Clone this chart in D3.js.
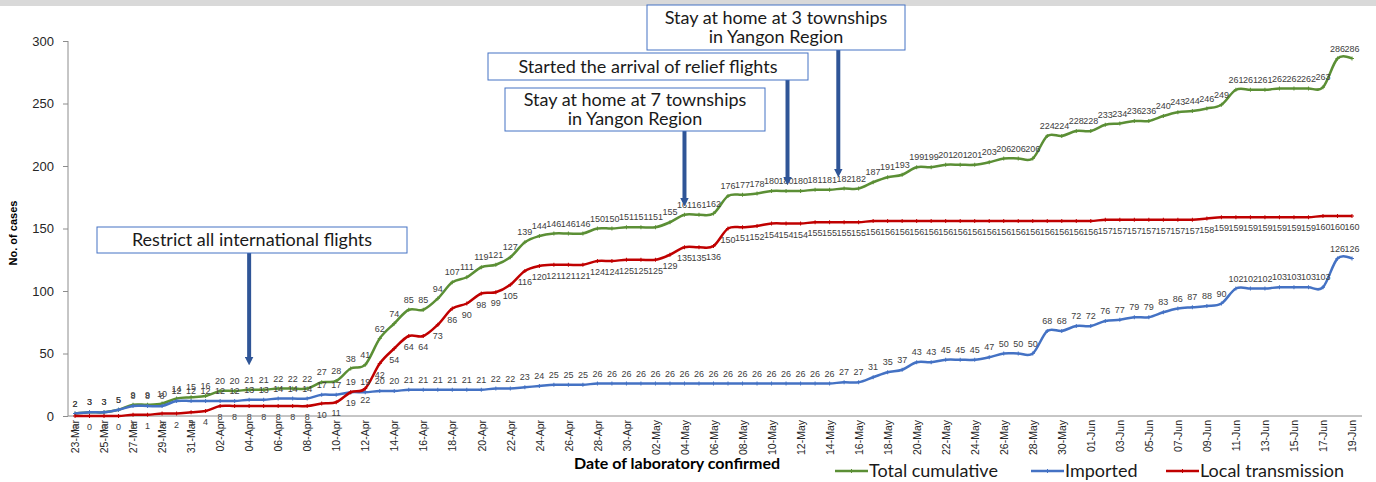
<!DOCTYPE html>
<html>
<head>
<meta charset="utf-8">
<script src="https://cdn.jsdelivr.net/npm/d3@7"></script>
<style>
  body { margin: 0; background: #fff; }
  svg { display: block; }
</style>
</head>
<body>
<div id="chart"></div>
<script>
// categories: one point per day, 23-Mar to 19-Jun
const parseDay = d3.timeParse("%Y-%m-%d");
const fmtDay = d3.timeFormat("%d-%b");
const days = d3.timeDay.range(parseDay("2020-03-23"), parseDay("2020-06-20")).map(fmtDay);

const totalCases = [
  2, 3, 3, 5, 9, 9, 10, 14, 15,
  16, 20, 20, 21, 21, 22, 22, 22, 27, 28, 38, 41, 62, 74, 85, 85, 94, 107, 111, 119, 121, 127, 139, 144, 146, 146, 146, 150, 150, 151,
  151, 151, 155, 161, 161, 162, 176, 177, 178, 180, 180, 180, 181, 181, 182, 182, 187, 191, 193, 199, 199, 201, 201, 201, 203, 206, 206, 206, 224, 224, 228,
  228, 233, 234, 236, 236, 240, 243, 244, 246, 249, 261, 261, 261, 262, 262, 262, 263, 286, 286
];
const importedCases = [
  2, 3, 3, 5, 8, 8, 8, 12, 12,
  12, 12, 12, 13, 13, 14, 14, 14, 17, 17, 19, 19, 20, 20, 21, 21, 21, 21, 21, 21, 22, 22, 23, 24, 25, 25, 25, 26, 26, 26,
  26, 26, 26, 26, 26, 26, 26, 26, 26, 26, 26, 26, 26, 26, 27, 27, 31, 35, 37, 43, 43, 45, 45, 45, 47, 50, 50, 50, 68, 68, 72,
  72, 76, 77, 79, 79, 83, 86, 87, 88, 90, 102, 102, 102, 103, 103, 103, 103, 126, 126
];
const localCases = [
  0, 0, 0, 0, 1, 1, 2, 2, 3,
  4, 8, 8, 8, 8, 8, 8, 8, 10, 11, 19, 22, 42, 54, 64, 64, 73, 86, 90, 98, 99, 105, 116, 120, 121, 121, 121, 124, 124, 125,
  125, 125, 129, 135, 135, 136, 150, 151, 152, 154, 154, 154, 155, 155, 155, 155, 156, 156, 156, 156, 156, 156, 156, 156, 156, 156, 156, 156, 156, 156, 156,
  156, 157, 157, 157, 157, 157, 157, 157, 158, 159, 159, 159, 159, 159, 159, 159, 160, 160, 160
];
const yTicks = [0, 50, 100, 150, 200, 250, 300];

// annotations: text lines, date the arrow points at (fractional offset allowed)
const notes = [
  { lines: ["Restrict all international flights"], day: "04-Apr", shift: 0, box: [97, 227, 310, 26], tip: 366 },
  { lines: ["Stay at home at 7 townships", "in Yangon Region"], day: "04-May", shift: 0, box: [505, 88, 260, 43], tip: 207 },
  { lines: ["Started the arrival of relief flights"], day: "11-May", shift: 0.1, box: [488, 53, 320, 27], tip: 186 },
  { lines: ["Stay at home at 3 townships", "in Yangon Region"], day: "14-May", shift: 0.6, box: [647, 5, 258, 45], tip: 178 }
];

const W = 1376, H = 482;
const svg = d3.select("#chart").append("svg").attr("width", W).attr("height", H);

// top grey strip
svg.append("rect").attr("x", 0).attr("y", 0).attr("width", W).attr("height", 6).attr("fill", "#d9d9d9");

const x = d3.scalePoint().domain(days).range([75, 1352]);
const y = d3.scaleLinear().domain([0, 300]).range([416, 41]);

// y axis
const yAxis = svg.append("g")
  .attr("transform", "translate(68,0)")
  .call(d3.axisLeft(y).tickValues(yTicks).tickSize(5).tickPadding(9));
yAxis.select(".domain").attr("stroke", "#8c8c8c").attr("d", "M0,41V416");
yAxis.selectAll(".tick line").attr("stroke", "#8c8c8c");
yAxis.selectAll("text").attr("fill", "#262626")
  .style("font-family", "'Liberation Sans', Arial, sans-serif").style("font-size", "13px");

// x axis
svg.append("line").attr("x1", 68).attr("x2", 1362).attr("y1", 416).attr("y2", 416).attr("stroke", "#8c8c8c");
const xAxis = svg.append("g")
  .attr("transform", "translate(0,416)")
  .call(d3.axisBottom(x).tickValues(days.filter((d, i) => i % 2 === 0)).tickSize(0));
xAxis.select(".domain").remove();
xAxis.selectAll("text")
  .attr("transform", "rotate(-90)")
  .attr("text-anchor", "end")
  .attr("x", -4).attr("y", 0).attr("dy", "0.35em")
  .attr("fill", "#262626")
  .style("font-family", "'Liberation Sans Narrow', 'Liberation Sans', Arial, sans-serif")
  .style("font-size", "10.5px");

// axis titles
svg.append("text")
  .attr("transform", "translate(17,233) rotate(-90)")
  .attr("text-anchor", "middle")
  .style("font-family", "'Liberation Sans', Arial, sans-serif")
  .style("font-size", "11px").style("font-weight", "bold")
  .attr("fill", "#000").text("No. of cases");
svg.append("text")
  .attr("x", 677).attr("y", 469)
  .attr("text-anchor", "middle")
  .style("font-family", "Lato, 'Liberation Sans', sans-serif")
  .style("font-size", "16px").style("font-weight", "bold")
  .attr("fill", "#000").text("Date of laboratory confirmed");

const series = [
  { name: "Total cumulative", values: totalCases, color: "#5b8f35", below: false },
  { name: "Imported", values: importedCases, color: "#4472c4", below: false },
  { name: "Local transmission", values: localCases, color: "#c00000", below: true }
];

const line = d3.line()
  .x((d, i) => x(days[i]))
  .y(d => y(d))
  .curve(d3.curveCatmullRom.alpha(0));

series.forEach(s => {
  const g = svg.append("g");
  g.append("path")
    .attr("d", line(s.values))
    .attr("fill", "none")
    .attr("stroke", s.color)
    .attr("stroke-width", 2.5);
  // small plus markers
  g.selectAll("path.mk").data(s.values).enter().append("path")
    .attr("class", "mk")
    .attr("d", (d, i) => {
      const px = x(days[i]), py = y(d);
      return `M${px - 2},${py}H${px + 2}M${px},${py - 2}V${py + 2}`;
    })
    .attr("stroke", s.color).attr("stroke-width", 1);
});

// data labels
series.forEach(s => {
  svg.append("g").selectAll("text").data(s.values).enter().append("text")
    .attr("x", (d, i) => x(days[i]))
    .attr("y", d => s.below ? y(d) + 14 : y(d) - 7)
    .attr("text-anchor", "middle")
    .style("font-family", "'Liberation Sans', Arial, sans-serif")
    .style("font-size", "9px")
    .attr("fill", "#404040")
    .text(d => d);
});

// annotations
const defs = svg.append("defs");
defs.append("marker")
  .attr("id", "head").attr("viewBox", "0 0 10 10")
  .attr("refX", 5).attr("refY", 5)
  .attr("markerWidth", 2.2).attr("markerHeight", 2.2)
  .attr("orient", "auto")
  .append("path").attr("d", "M0,0L10,5L0,10Z").attr("fill", "#2f5597");

const step = x.step();
notes.forEach(n => {
  const ax = x(n.day) + n.shift * step;
  const [bx, by, bw, bh] = n.box;
  svg.append("line")
    .attr("x1", ax).attr("x2", ax)
    .attr("y1", by + bh).attr("y2", n.tip - 5)
    .attr("stroke", "#2f5597").attr("stroke-width", 4)
    .attr("marker-end", "url(#head)");
  svg.append("rect")
    .attr("x", bx).attr("y", by).attr("width", bw).attr("height", bh)
    .attr("fill", "#fff").attr("stroke", "#4472c4").attr("stroke-width", 1);
  const t = svg.append("text")
    .attr("text-anchor", "middle")
    .style("font-family", "Lato, 'Liberation Sans', sans-serif")
    .style("font-size", "18px")
    .attr("fill", "#1a1a1a");
  const lh = 19;
  const top = by + bh / 2 - (n.lines.length - 1) * lh / 2 + 6;
  n.lines.forEach((l, i) => {
    t.append("tspan").attr("x", bx + bw / 2).attr("y", top + i * lh).text(l);
  });
});

// legend
const legendX = [835, 1031, 1166];
series.forEach((s, i) => {
  const lx = legendX[i];
  svg.append("line").attr("x1", lx).attr("x2", lx + 33).attr("y1", 471).attr("y2", 471)
    .attr("stroke", s.color).attr("stroke-width", 2.5);
  svg.append("path").attr("d", `M${lx + 14.5},471H${lx + 18.5}M${lx + 16.5},469V473`)
    .attr("stroke", s.color).attr("stroke-width", 1);
  svg.append("text").attr("x", lx + 34).attr("y", 477)
    .style("font-family", "Lato, 'Liberation Sans', sans-serif")
    .style("font-size", "18px")
    .attr("fill", "#1a1a1a")
    .text(s.name);
});
</script>
</body>
</html>
